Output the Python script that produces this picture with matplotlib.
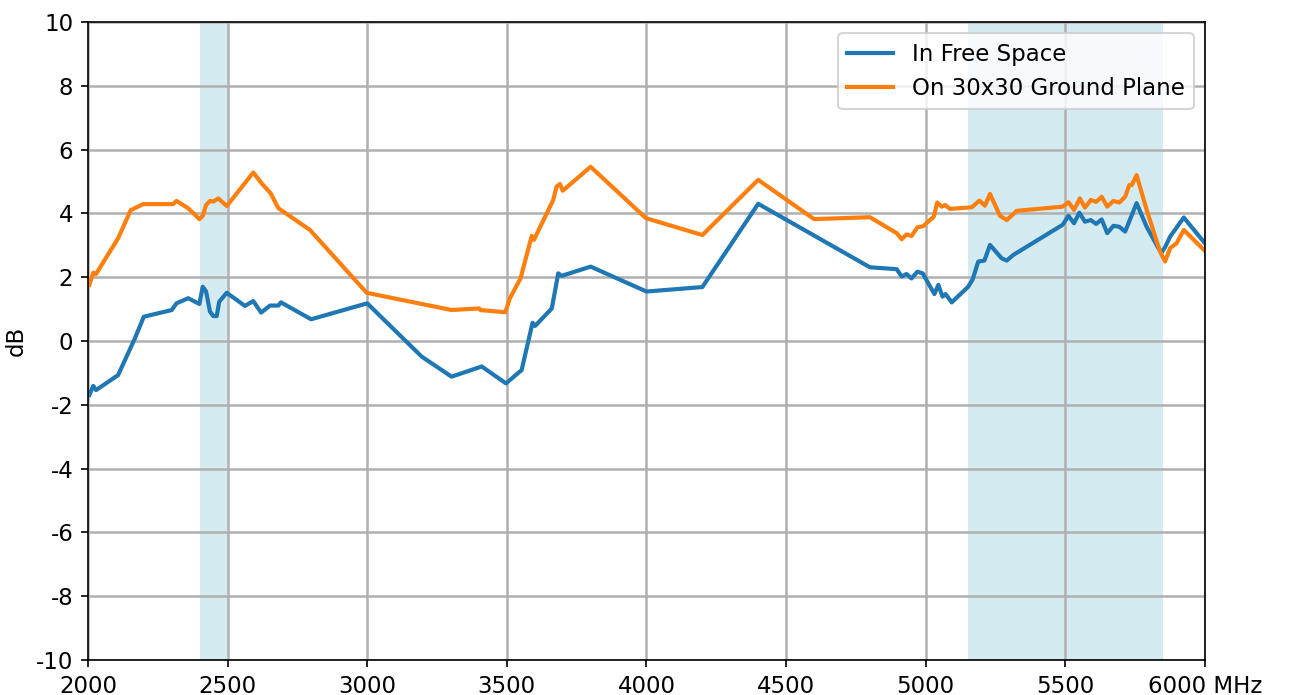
import numpy as np
import matplotlib
matplotlib.use("Agg")
import matplotlib.pyplot as plt

free_mhz = [2005, 2019, 2029, 2108, 2168, 2200, 2300, 2317, 2359, 2399, 2411, 2423, 2437,
            2449, 2461, 2470, 2497, 2562, 2592, 2620, 2652, 2682, 2691, 2799, 3000, 3195,
            3302, 3410, 3497, 3553, 3592, 3601, 3661, 3684, 3696, 3800, 4000, 4200, 4400,
            4800, 4896, 4914, 4931, 4949, 4970, 4989, 5031, 5045, 5060, 5071, 5093, 5152,
            5168, 5188, 5210, 5230, 5272, 5290, 5314, 5490, 5511, 5531, 5550, 5570, 5591,
            5610, 5630, 5650, 5672, 5693, 5714, 5755, 5791, 5833, 5845, 5857, 5875, 5924,
            6000]
free_db = [-1.69, -1.41, -1.54, -1.07, 0.08, 0.76, 0.97, 1.18, 1.34, 1.16, 1.70, 1.55, 0.92,
           0.78, 0.78, 1.23, 1.51, 1.10, 1.25, 0.89, 1.11, 1.11, 1.21, 0.68, 1.18, -0.49,
           -1.12, -0.80, -1.33, -0.91, 0.57, 0.47, 1.02, 2.12, 2.04, 2.33, 1.55, 1.69, 4.30,
           2.31, 2.25, 2.02, 2.10, 1.96, 2.17, 2.12, 1.47, 1.76, 1.39, 1.47, 1.21, 1.70,
           1.93, 2.49, 2.52, 3.01, 2.59, 2.52, 2.70, 3.64, 3.92, 3.69, 4.02, 3.74, 3.79,
           3.67, 3.81, 3.38, 3.61, 3.58, 3.43, 4.32, 3.58, 2.91, 2.78, 2.94, 3.27, 3.87,
           3.06]

ground_mhz = [2005, 2019, 2029, 2108, 2153, 2198, 2305, 2317, 2359, 2399, 2411, 2423, 2437,
              2449, 2467, 2479, 2497, 2592, 2622, 2654, 2682, 2795, 2998, 3302, 3401, 3405,
              3494, 3511, 3549, 3589, 3597, 3666, 3678, 3690, 3700, 3800, 3998, 4200, 4400,
              4600, 4800, 4896, 4914, 4931, 4949, 4970, 4991, 5029, 5041, 5057, 5069, 5087,
              5165, 5192, 5212, 5230, 5266, 5290, 5326, 5490, 5511, 5531, 5552, 5570, 5591,
              5610, 5630, 5650, 5672, 5693, 5714, 5729, 5738, 5755, 5791, 5839, 5857, 5875,
              5898, 5924, 6000]
ground_db = [1.76, 2.14, 2.10, 3.22, 4.10, 4.29, 4.29, 4.39, 4.16, 3.82, 3.92, 4.26, 4.39,
             4.37, 4.47, 4.37, 4.23, 5.28, 4.94, 4.63, 4.16, 3.48, 1.51, 0.97, 1.02, 0.97,
             0.90, 1.34, 1.96, 3.29, 3.17, 4.42, 4.84, 4.92, 4.71, 5.46, 3.85, 3.32, 5.05,
             3.82, 3.88, 3.38, 3.19, 3.34, 3.29, 3.56, 3.60, 3.90, 4.34, 4.21, 4.26, 4.14,
             4.19, 4.40, 4.24, 4.61, 3.92, 3.79, 4.08, 4.21, 4.35, 4.11, 4.47, 4.18, 4.42,
             4.36, 4.52, 4.21, 4.39, 4.34, 4.52, 4.89, 4.89, 5.20, 4.11, 2.80, 2.49, 2.91,
             3.06, 3.48, 2.82]

# Wi-Fi bands that are highlighted
bands = [(2400, 2500), (5150, 5850)]

xticks = [2000, 2500, 3000, 3500, 4000, 4500, 5000, 5500, 6000]
xtick_labels = ["2000", "2500", "3000", "3500", "4000", "4500", "5000", "5500", "6000 MHz"]

plt.rcParams["font.size"] = 11
plt.rcParams["axes.unicode_minus"] = False

fig = plt.figure(figsize=(1303 / 150, 695 / 150), dpi=150)
ax = fig.add_axes([0.0675, 0.0504, 0.8573, 0.9180])

for lo, hi in bands:
    ax.axvspan(lo, hi, color="lightblue", alpha=0.5, lw=0)

ax.plot(free_mhz, free_db, lw=2, label="In Free Space")
ax.plot(ground_mhz, ground_db, lw=2, label="On 30x30 Ground Plane")

ax.set_xlim(2000, 6000)
ax.set_ylim(-10, 10)
ax.set_yticks(np.arange(-10, 11, 2))
ax.set_xticks(xticks)
ax.set_xticklabels(xtick_labels)
ax.set_ylabel("dB")
ax.grid(True, color="#b0b0b0", lw=1.2)
ax.legend(loc="upper right")

fig.savefig("out.png", dpi=150)
